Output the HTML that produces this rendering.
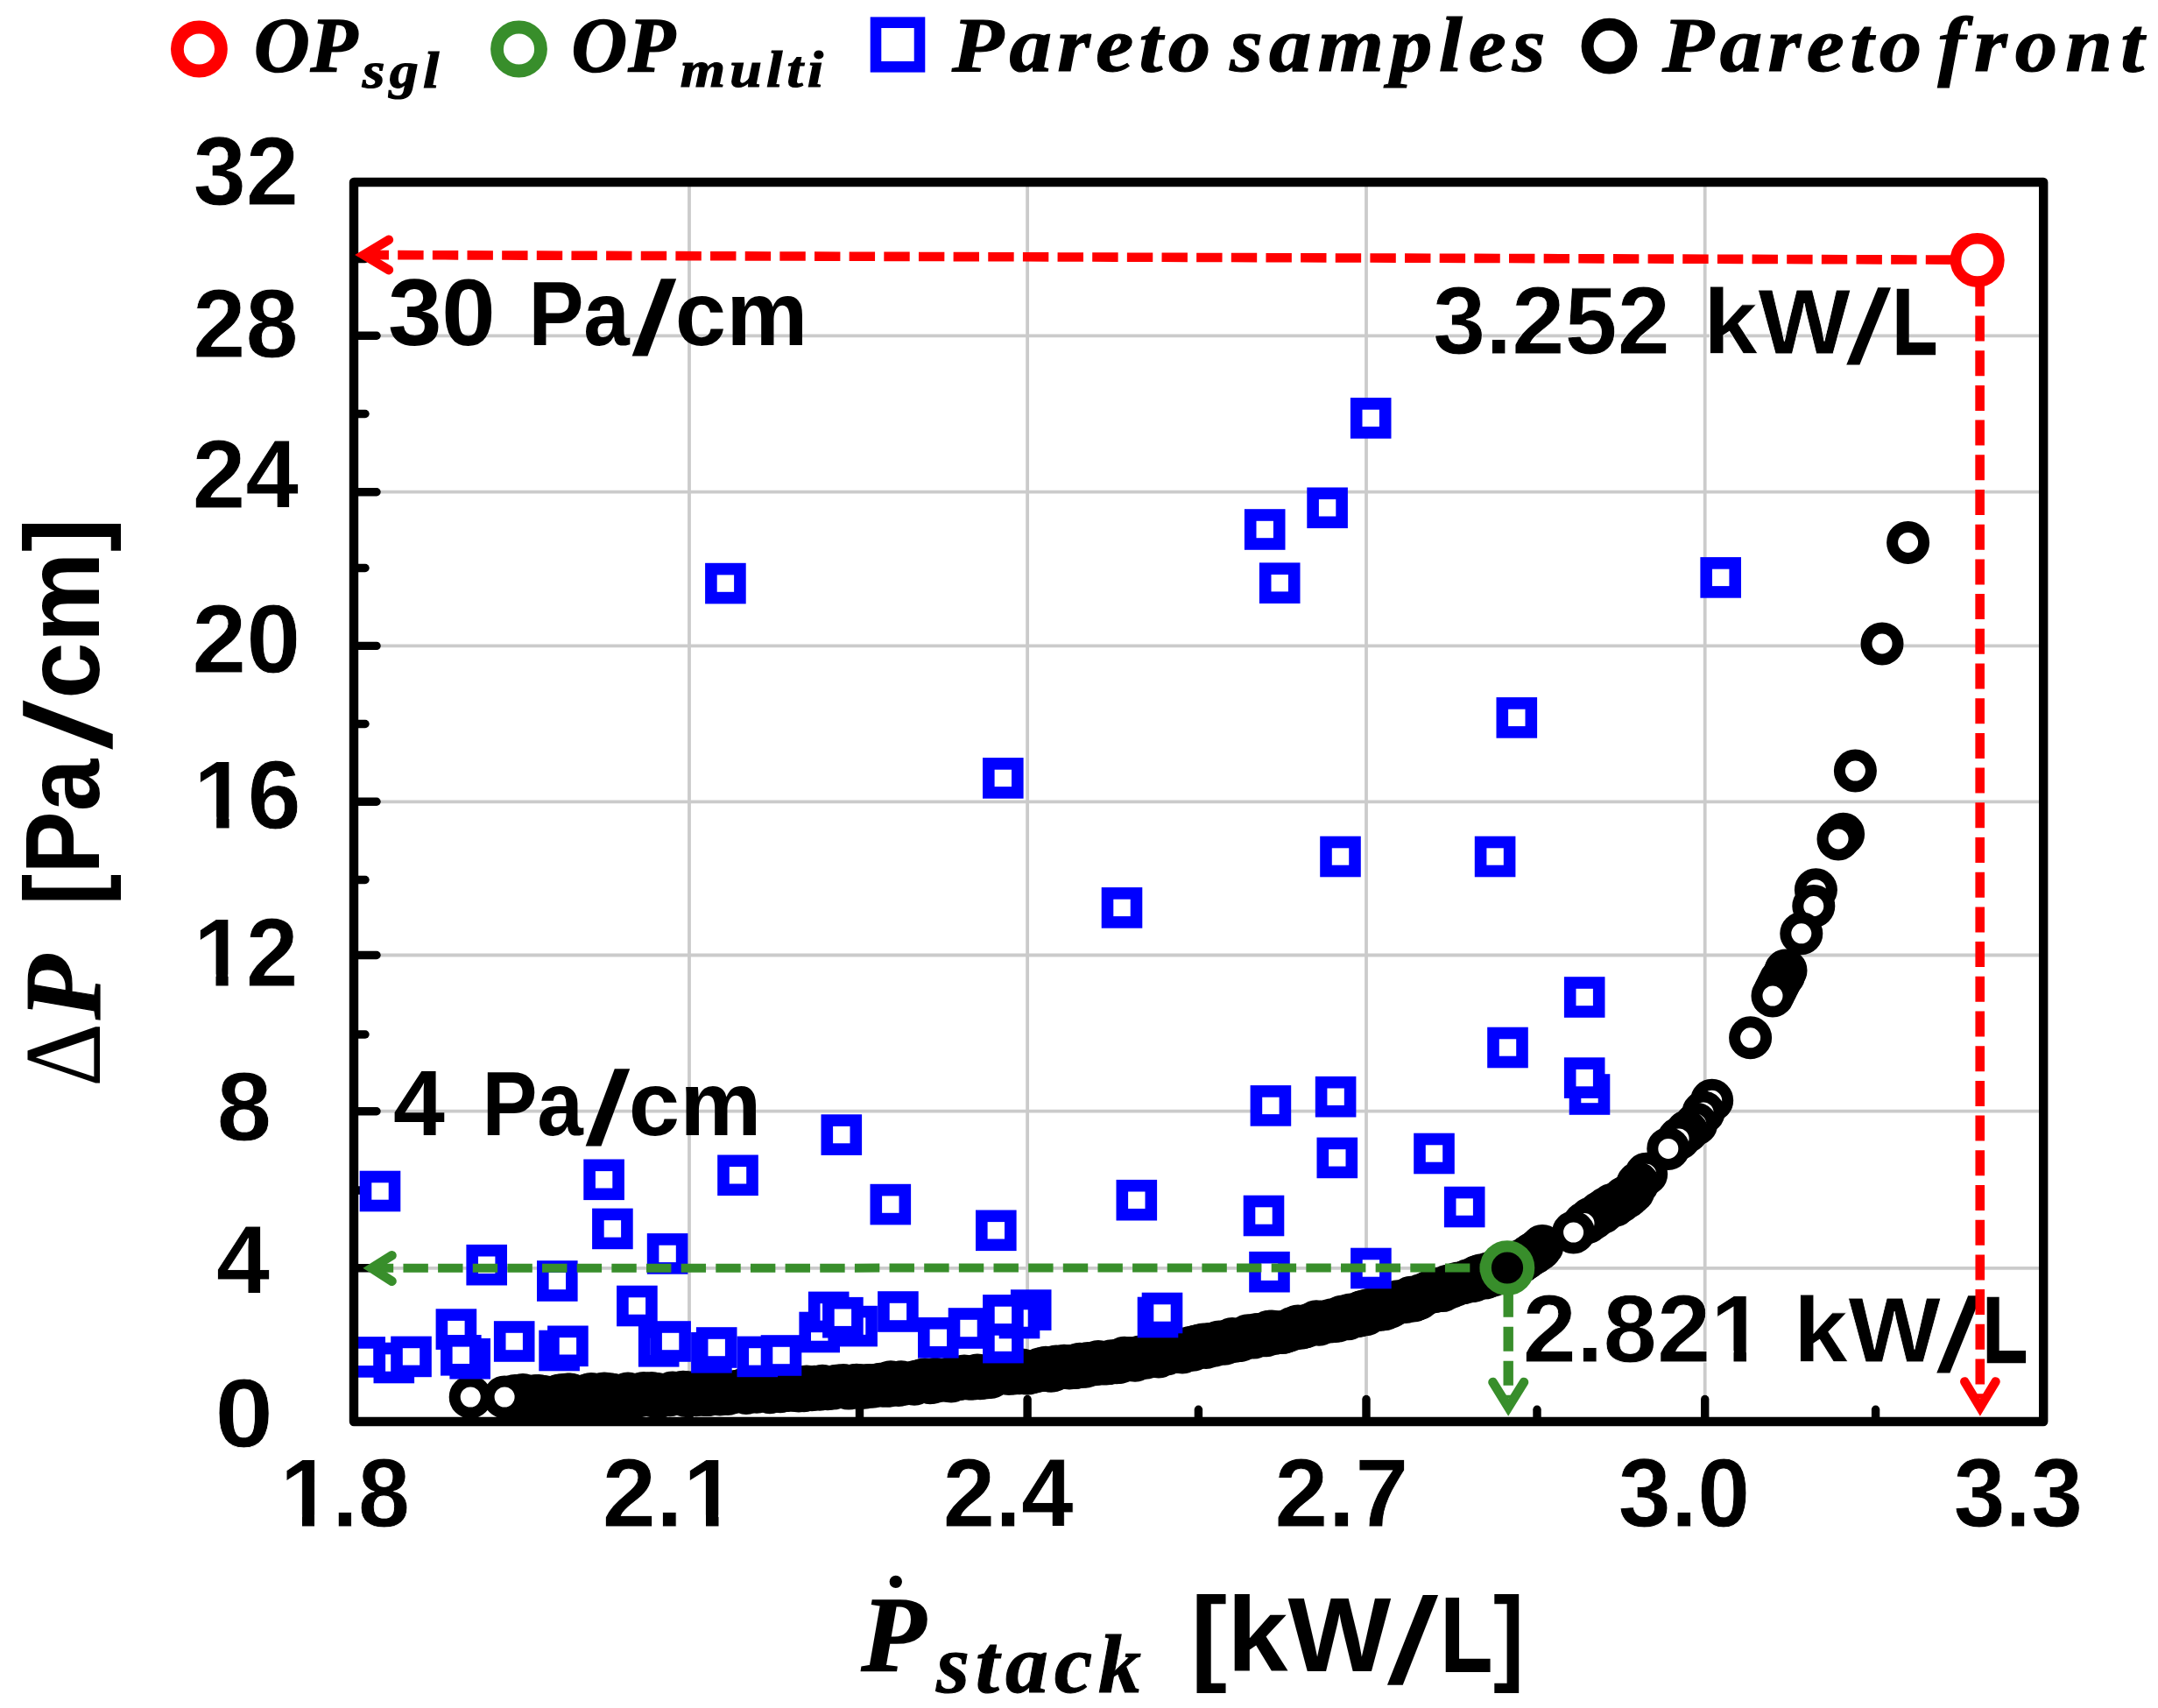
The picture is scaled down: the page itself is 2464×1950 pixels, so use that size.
<!DOCTYPE html>
<html lang="en"><head><meta charset="utf-8"><title>Pareto front</title>
<style>html,body{margin:0;padding:0;background:#fff}svg{display:block}</style></head>
<body>
<svg width="2464" height="1950" viewBox="0 0 2464 1950">
<rect width="100%" height="100%" fill="#fff"/>
<g stroke="#cbcbcb" stroke-width="3.8" fill="none">
<line x1="787.0" y1="208.0" x2="787.0" y2="1623.0"/>
<line x1="1173.1" y1="208.0" x2="1173.1" y2="1623.0"/>
<line x1="1560.0" y1="208.0" x2="1560.0" y2="1623.0"/>
<line x1="1946.7" y1="208.0" x2="1946.7" y2="1623.0"/>
<line x1="404.0" y1="383.3" x2="2333.2" y2="383.3"/>
<line x1="404.0" y1="561.7" x2="2333.2" y2="561.7"/>
<line x1="404.0" y1="737.4" x2="2333.2" y2="737.4"/>
<line x1="404.0" y1="915.3" x2="2333.2" y2="915.3"/>
<line x1="404.0" y1="1090.5" x2="2333.2" y2="1090.5"/>
<line x1="404.0" y1="1268.7" x2="2333.2" y2="1268.7"/>
<line x1="404.0" y1="1447.8" x2="2333.2" y2="1447.8"/>
</g>
<g stroke="#000" stroke-width="9.4" stroke-linecap="round" fill="none">
<line x1="404.0" y1="383.3" x2="430" y2="383.3"/>
<line x1="404.0" y1="561.7" x2="430" y2="561.7"/>
<line x1="404.0" y1="737.4" x2="430" y2="737.4"/>
<line x1="404.0" y1="915.3" x2="430" y2="915.3"/>
<line x1="404.0" y1="1090.5" x2="430" y2="1090.5"/>
<line x1="404.0" y1="1268.7" x2="430" y2="1268.7"/>
<line x1="404.0" y1="1447.8" x2="430" y2="1447.8"/>
<line x1="404.0" y1="295.5" x2="417" y2="295.5"/>
<line x1="404.0" y1="472.5" x2="417" y2="472.5"/>
<line x1="404.0" y1="648.5" x2="417" y2="648.5"/>
<line x1="404.0" y1="826.5" x2="417" y2="826.5"/>
<line x1="404.0" y1="1004.5" x2="417" y2="1004.5"/>
<line x1="404.0" y1="1181.0" x2="417" y2="1181.0"/>
<line x1="404.0" y1="1359.0" x2="417" y2="1359.0"/>
<line x1="404.0" y1="1538.5" x2="417" y2="1538.5"/>
<line x1="787.0" y1="1623.0" x2="787.0" y2="1597.5"/>
<line x1="1173.1" y1="1623.0" x2="1173.1" y2="1597.5"/>
<line x1="1560.0" y1="1623.0" x2="1560.0" y2="1597.5"/>
<line x1="1946.7" y1="1623.0" x2="1946.7" y2="1597.5"/>
<line x1="593.7" y1="1623.0" x2="593.7" y2="1609.3"/>
<line x1="981.5" y1="1623.0" x2="981.5" y2="1609.3"/>
<line x1="1368.4" y1="1623.0" x2="1368.4" y2="1609.3"/>
<line x1="1755.0" y1="1623.0" x2="1755.0" y2="1609.3"/>
<line x1="2141.6" y1="1623.0" x2="2141.6" y2="1609.3"/>
</g>
<defs><clipPath id="plot"><rect x="404" y="208" width="1929.2" height="1415"/></clipPath></defs>
<g fill="#fff" stroke="#000" stroke-width="13" clip-path="url(#plot)">
<circle cx="2178.6" cy="619.4" r="18"/>
<circle cx="2149.0" cy="734.9" r="18"/>
<circle cx="2118.4" cy="880.0" r="18"/>
<circle cx="2104.6" cy="952.3" r="18"/>
<circle cx="2099.0" cy="957.9" r="18"/>
<circle cx="2073.4" cy="1015.7" r="18"/>
<circle cx="2070.8" cy="1034.6" r="18"/>
<circle cx="2056.8" cy="1065.8" r="18"/>
<circle cx="2039.0" cy="1108.0" r="18"/>
<circle cx="2036.7" cy="1113.6" r="18"/>
<circle cx="2033.0" cy="1119.0" r="18"/>
<circle cx="2030.0" cy="1125.0" r="18"/>
<circle cx="2027.0" cy="1131.0" r="18"/>
<circle cx="2024.0" cy="1137.0" r="18"/>
<circle cx="1998.6" cy="1184.8" r="18"/>
<circle cx="1954.7" cy="1256.3" r="18"/>
<circle cx="1945.0" cy="1270.0" r="18"/>
<circle cx="1936.7" cy="1283.3" r="18"/>
<circle cx="1926.0" cy="1292.0" r="18"/>
<circle cx="1917.0" cy="1300.0" r="18"/>
<circle cx="1904.8" cy="1311.4" r="18"/>
<circle cx="1879.7" cy="1340.3" r="18"/>
<circle cx="1870.0" cy="1351.0" r="18"/>
<circle cx="1865.0" cy="1360.1" r="18"/>
<circle cx="1861.5" cy="1363.3" r="18"/>
<circle cx="1858.0" cy="1366.4" r="18"/>
<circle cx="1854.5" cy="1367.4" r="18"/>
<circle cx="1851.0" cy="1371.3" r="18"/>
<circle cx="1847.5" cy="1372.9" r="18"/>
<circle cx="1844.0" cy="1376.2" r="18"/>
<circle cx="1840.5" cy="1375.6" r="18"/>
<circle cx="1837.0" cy="1378.8" r="18"/>
<circle cx="1833.5" cy="1379.8" r="18"/>
<circle cx="1830.0" cy="1384.2" r="18"/>
<circle cx="1826.5" cy="1384.5" r="18"/>
<circle cx="1823.0" cy="1387.5" r="18"/>
<circle cx="1819.5" cy="1390.9" r="18"/>
<circle cx="1816.0" cy="1391.2" r="18"/>
<circle cx="1812.5" cy="1395.7" r="18"/>
<circle cx="1809.0" cy="1396.6" r="18"/>
<circle cx="1796.6" cy="1407.0" r="18"/>
<circle cx="1761.0" cy="1422.5" r="18"/>
<circle cx="1758.0" cy="1426.3" r="18"/>
<circle cx="1755.0" cy="1427.8" r="18"/>
<circle cx="1752.0" cy="1430.5" r="18"/>
<circle cx="1749.0" cy="1431.7" r="18"/>
<circle cx="1746.0" cy="1434.0" r="18"/>
<circle cx="1743.0" cy="1436.3" r="18"/>
<circle cx="1740.0" cy="1438.0" r="18"/>
<circle cx="1737.0" cy="1440.5" r="18"/>
<circle cx="1734.0" cy="1440.3" r="18"/>
<circle cx="1731.0" cy="1441.0" r="18"/>
<circle cx="1728.0" cy="1441.9" r="18"/>
<circle cx="1725.0" cy="1446.1" r="18"/>
<circle cx="1722.0" cy="1446.1" r="18"/>
<circle cx="1719.0" cy="1446.0" r="18"/>
<circle cx="1716.0" cy="1451.6" r="18"/>
<circle cx="1713.0" cy="1450.6" r="18"/>
<circle cx="1710.0" cy="1451.8" r="18"/>
<circle cx="1707.0" cy="1451.3" r="18"/>
<circle cx="1704.0" cy="1456.2" r="18"/>
<circle cx="1701.0" cy="1453.5" r="18"/>
<circle cx="1698.0" cy="1458.0" r="18"/>
<circle cx="1695.0" cy="1459.1" r="18"/>
<circle cx="1692.0" cy="1455.7" r="18"/>
<circle cx="1689.0" cy="1456.7" r="18"/>
<circle cx="1686.0" cy="1457.8" r="18"/>
<circle cx="1683.0" cy="1462.2" r="18"/>
<circle cx="1680.0" cy="1462.7" r="18"/>
<circle cx="1677.0" cy="1461.6" r="18"/>
<circle cx="1674.0" cy="1463.2" r="18"/>
<circle cx="1671.0" cy="1464.6" r="18"/>
<circle cx="1668.0" cy="1465.0" r="18"/>
<circle cx="1665.0" cy="1464.9" r="18"/>
<circle cx="1662.0" cy="1467.1" r="18"/>
<circle cx="1659.0" cy="1466.7" r="18"/>
<circle cx="1656.0" cy="1469.7" r="18"/>
<circle cx="1653.0" cy="1468.3" r="18"/>
<circle cx="1650.0" cy="1470.8" r="18"/>
<circle cx="1647.0" cy="1473.6" r="18"/>
<circle cx="1644.0" cy="1471.2" r="18"/>
<circle cx="1641.0" cy="1471.9" r="18"/>
<circle cx="1638.0" cy="1474.8" r="18"/>
<circle cx="1635.0" cy="1473.4" r="18"/>
<circle cx="1632.0" cy="1474.9" r="18"/>
<circle cx="1629.0" cy="1476.4" r="18"/>
<circle cx="1626.0" cy="1478.2" r="18"/>
<circle cx="1623.0" cy="1478.4" r="18"/>
<circle cx="1620.0" cy="1482.7" r="18"/>
<circle cx="1617.0" cy="1483.6" r="18"/>
<circle cx="1614.0" cy="1485.0" r="18"/>
<circle cx="1611.0" cy="1481.3" r="18"/>
<circle cx="1608.0" cy="1484.2" r="18"/>
<circle cx="1605.0" cy="1486.5" r="18"/>
<circle cx="1602.0" cy="1485.4" r="18"/>
<circle cx="1599.0" cy="1486.3" r="18"/>
<circle cx="1596.0" cy="1485.8" r="18"/>
<circle cx="1593.0" cy="1488.9" r="18"/>
<circle cx="1590.0" cy="1487.8" r="18"/>
<circle cx="1587.0" cy="1492.2" r="18"/>
<circle cx="1584.0" cy="1490.3" r="18"/>
<circle cx="1581.0" cy="1494.7" r="18"/>
<circle cx="1578.0" cy="1491.9" r="18"/>
<circle cx="1575.0" cy="1495.5" r="18"/>
<circle cx="1572.0" cy="1494.8" r="18"/>
<circle cx="1569.0" cy="1496.3" r="18"/>
<circle cx="1566.0" cy="1495.1" r="18"/>
<circle cx="1563.0" cy="1495.6" r="18"/>
<circle cx="1560.0" cy="1500.7" r="18"/>
<circle cx="1557.0" cy="1497.0" r="18"/>
<circle cx="1554.0" cy="1497.9" r="18"/>
<circle cx="1551.0" cy="1502.6" r="18"/>
<circle cx="1548.0" cy="1502.8" r="18"/>
<circle cx="1545.0" cy="1503.0" r="18"/>
<circle cx="1542.0" cy="1500.9" r="18"/>
<circle cx="1539.0" cy="1505.8" r="18"/>
<circle cx="1536.0" cy="1505.3" r="18"/>
<circle cx="1533.0" cy="1502.9" r="18"/>
<circle cx="1530.0" cy="1504.8" r="18"/>
<circle cx="1527.0" cy="1508.1" r="18"/>
<circle cx="1524.0" cy="1508.4" r="18"/>
<circle cx="1521.0" cy="1506.8" r="18"/>
<circle cx="1518.0" cy="1509.1" r="18"/>
<circle cx="1515.0" cy="1508.9" r="18"/>
<circle cx="1512.0" cy="1508.7" r="18"/>
<circle cx="1509.0" cy="1510.1" r="18"/>
<circle cx="1506.0" cy="1512.3" r="18"/>
<circle cx="1503.0" cy="1508.8" r="18"/>
<circle cx="1500.0" cy="1511.4" r="18"/>
<circle cx="1497.0" cy="1511.8" r="18"/>
<circle cx="1494.0" cy="1512.8" r="18"/>
<circle cx="1491.0" cy="1514.8" r="18"/>
<circle cx="1488.0" cy="1515.5" r="18"/>
<circle cx="1485.0" cy="1516.2" r="18"/>
<circle cx="1482.0" cy="1513.9" r="18"/>
<circle cx="1479.0" cy="1516.8" r="18"/>
<circle cx="1476.0" cy="1516.2" r="18"/>
<circle cx="1473.0" cy="1518.7" r="18"/>
<circle cx="1470.0" cy="1519.6" r="18"/>
<circle cx="1467.0" cy="1520.7" r="18"/>
<circle cx="1464.0" cy="1521.6" r="18"/>
<circle cx="1461.0" cy="1520.8" r="18"/>
<circle cx="1458.0" cy="1521.1" r="18"/>
<circle cx="1455.0" cy="1522.5" r="18"/>
<circle cx="1452.0" cy="1520.0" r="18"/>
<circle cx="1449.0" cy="1520.3" r="18"/>
<circle cx="1446.0" cy="1524.8" r="18"/>
<circle cx="1443.0" cy="1524.7" r="18"/>
<circle cx="1440.0" cy="1524.2" r="18"/>
<circle cx="1437.0" cy="1523.5" r="18"/>
<circle cx="1434.0" cy="1523.7" r="18"/>
<circle cx="1431.0" cy="1527.1" r="18"/>
<circle cx="1428.0" cy="1526.5" r="18"/>
<circle cx="1425.0" cy="1524.8" r="18"/>
<circle cx="1422.0" cy="1526.9" r="18"/>
<circle cx="1419.0" cy="1529.0" r="18"/>
<circle cx="1416.0" cy="1530.4" r="18"/>
<circle cx="1413.0" cy="1530.7" r="18"/>
<circle cx="1410.0" cy="1531.1" r="18"/>
<circle cx="1407.0" cy="1528.5" r="18"/>
<circle cx="1404.0" cy="1532.1" r="18"/>
<circle cx="1401.0" cy="1531.1" r="18"/>
<circle cx="1398.0" cy="1534.2" r="18"/>
<circle cx="1395.0" cy="1532.5" r="18"/>
<circle cx="1392.0" cy="1531.9" r="18"/>
<circle cx="1389.0" cy="1534.7" r="18"/>
<circle cx="1386.0" cy="1536.3" r="18"/>
<circle cx="1383.0" cy="1534.3" r="18"/>
<circle cx="1380.0" cy="1534.7" r="18"/>
<circle cx="1377.0" cy="1538.5" r="18"/>
<circle cx="1374.0" cy="1535.1" r="18"/>
<circle cx="1371.0" cy="1535.9" r="18"/>
<circle cx="1368.0" cy="1536.6" r="18"/>
<circle cx="1365.0" cy="1537.3" r="18"/>
<circle cx="1362.0" cy="1541.2" r="18"/>
<circle cx="1359.0" cy="1538.5" r="18"/>
<circle cx="1356.0" cy="1540.3" r="18"/>
<circle cx="1353.0" cy="1542.4" r="18"/>
<circle cx="1350.0" cy="1543.9" r="18"/>
<circle cx="1347.0" cy="1541.1" r="18"/>
<circle cx="1344.0" cy="1543.5" r="18"/>
<circle cx="1341.0" cy="1543.4" r="18"/>
<circle cx="1338.0" cy="1543.5" r="18"/>
<circle cx="1335.0" cy="1543.9" r="18"/>
<circle cx="1332.0" cy="1546.0" r="18"/>
<circle cx="1329.0" cy="1545.6" r="18"/>
<circle cx="1326.0" cy="1546.1" r="18"/>
<circle cx="1323.0" cy="1548.9" r="18"/>
<circle cx="1320.0" cy="1548.5" r="18"/>
<circle cx="1317.0" cy="1546.3" r="18"/>
<circle cx="1314.0" cy="1547.9" r="18"/>
<circle cx="1311.0" cy="1547.0" r="18"/>
<circle cx="1308.0" cy="1550.2" r="18"/>
<circle cx="1305.0" cy="1549.6" r="18"/>
<circle cx="1302.0" cy="1549.0" r="18"/>
<circle cx="1299.0" cy="1550.0" r="18"/>
<circle cx="1296.0" cy="1553.3" r="18"/>
<circle cx="1293.0" cy="1551.8" r="18"/>
<circle cx="1290.0" cy="1550.4" r="18"/>
<circle cx="1287.0" cy="1553.0" r="18"/>
<circle cx="1284.0" cy="1550.3" r="18"/>
<circle cx="1281.0" cy="1551.4" r="18"/>
<circle cx="1278.0" cy="1555.4" r="18"/>
<circle cx="1275.0" cy="1555.7" r="18"/>
<circle cx="1272.0" cy="1555.4" r="18"/>
<circle cx="1269.0" cy="1553.8" r="18"/>
<circle cx="1266.0" cy="1556.6" r="18"/>
<circle cx="1263.0" cy="1557.0" r="18"/>
<circle cx="1260.0" cy="1556.5" r="18"/>
<circle cx="1257.0" cy="1557.0" r="18"/>
<circle cx="1254.0" cy="1554.5" r="18"/>
<circle cx="1251.0" cy="1557.5" r="18"/>
<circle cx="1248.0" cy="1558.0" r="18"/>
<circle cx="1245.0" cy="1558.0" r="18"/>
<circle cx="1242.0" cy="1556.5" r="18"/>
<circle cx="1239.0" cy="1560.3" r="18"/>
<circle cx="1236.0" cy="1560.1" r="18"/>
<circle cx="1233.0" cy="1557.3" r="18"/>
<circle cx="1230.0" cy="1560.9" r="18"/>
<circle cx="1227.0" cy="1561.6" r="18"/>
<circle cx="1224.0" cy="1559.2" r="18"/>
<circle cx="1221.0" cy="1562.0" r="18"/>
<circle cx="1218.0" cy="1561.5" r="18"/>
<circle cx="1215.0" cy="1559.3" r="18"/>
<circle cx="1212.0" cy="1560.7" r="18"/>
<circle cx="1209.0" cy="1561.1" r="18"/>
<circle cx="1206.0" cy="1560.0" r="18"/>
<circle cx="1203.0" cy="1564.4" r="18"/>
<circle cx="1200.0" cy="1565.2" r="18"/>
<circle cx="1197.0" cy="1564.8" r="18"/>
<circle cx="1194.0" cy="1561.3" r="18"/>
<circle cx="1191.0" cy="1564.3" r="18"/>
<circle cx="1188.0" cy="1562.7" r="18"/>
<circle cx="1185.0" cy="1565.1" r="18"/>
<circle cx="1182.0" cy="1565.7" r="18"/>
<circle cx="1179.0" cy="1566.8" r="18"/>
<circle cx="1176.0" cy="1565.8" r="18"/>
<circle cx="1173.0" cy="1568.1" r="18"/>
<circle cx="1170.0" cy="1565.3" r="18"/>
<circle cx="1167.0" cy="1564.1" r="18"/>
<circle cx="1164.0" cy="1567.8" r="18"/>
<circle cx="1161.0" cy="1565.5" r="18"/>
<circle cx="1158.0" cy="1568.0" r="18"/>
<circle cx="1155.0" cy="1565.5" r="18"/>
<circle cx="1152.0" cy="1568.5" r="18"/>
<circle cx="1149.0" cy="1566.9" r="18"/>
<circle cx="1146.0" cy="1567.5" r="18"/>
<circle cx="1143.0" cy="1567.9" r="18"/>
<circle cx="1140.0" cy="1567.0" r="18"/>
<circle cx="1137.0" cy="1567.4" r="18"/>
<circle cx="1134.0" cy="1567.8" r="18"/>
<circle cx="1131.0" cy="1572.4" r="18"/>
<circle cx="1128.0" cy="1570.8" r="18"/>
<circle cx="1125.0" cy="1572.9" r="18"/>
<circle cx="1122.0" cy="1572.8" r="18"/>
<circle cx="1119.0" cy="1573.7" r="18"/>
<circle cx="1116.0" cy="1570.0" r="18"/>
<circle cx="1113.0" cy="1573.3" r="18"/>
<circle cx="1110.0" cy="1574.1" r="18"/>
<circle cx="1107.0" cy="1574.1" r="18"/>
<circle cx="1104.0" cy="1572.6" r="18"/>
<circle cx="1101.0" cy="1571.1" r="18"/>
<circle cx="1098.0" cy="1572.0" r="18"/>
<circle cx="1095.0" cy="1574.6" r="18"/>
<circle cx="1092.0" cy="1574.8" r="18"/>
<circle cx="1089.0" cy="1574.3" r="18"/>
<circle cx="1086.0" cy="1577.0" r="18"/>
<circle cx="1083.0" cy="1574.0" r="18"/>
<circle cx="1080.0" cy="1576.0" r="18"/>
<circle cx="1077.0" cy="1575.9" r="18"/>
<circle cx="1074.0" cy="1575.6" r="18"/>
<circle cx="1071.0" cy="1576.4" r="18"/>
<circle cx="1068.0" cy="1574.2" r="18"/>
<circle cx="1065.0" cy="1578.1" r="18"/>
<circle cx="1062.0" cy="1578.7" r="18"/>
<circle cx="1059.0" cy="1575.4" r="18"/>
<circle cx="1056.0" cy="1574.8" r="18"/>
<circle cx="1053.0" cy="1575.8" r="18"/>
<circle cx="1050.0" cy="1577.0" r="18"/>
<circle cx="1047.0" cy="1576.9" r="18"/>
<circle cx="1044.0" cy="1580.3" r="18"/>
<circle cx="1041.0" cy="1578.8" r="18"/>
<circle cx="1038.0" cy="1579.5" r="18"/>
<circle cx="1035.0" cy="1579.5" r="18"/>
<circle cx="1032.0" cy="1580.3" r="18"/>
<circle cx="1029.0" cy="1577.8" r="18"/>
<circle cx="1026.0" cy="1581.5" r="18"/>
<circle cx="1023.0" cy="1579.5" r="18"/>
<circle cx="1020.0" cy="1579.3" r="18"/>
<circle cx="1017.0" cy="1577.7" r="18"/>
<circle cx="1014.0" cy="1582.2" r="18"/>
<circle cx="1011.0" cy="1579.8" r="18"/>
<circle cx="1008.0" cy="1582.3" r="18"/>
<circle cx="1005.0" cy="1580.3" r="18"/>
<circle cx="1002.0" cy="1581.3" r="18"/>
<circle cx="999.0" cy="1582.3" r="18"/>
<circle cx="996.0" cy="1583.2" r="18"/>
<circle cx="993.0" cy="1581.5" r="18"/>
<circle cx="990.0" cy="1581.7" r="18"/>
<circle cx="987.0" cy="1584.2" r="18"/>
<circle cx="984.0" cy="1581.7" r="18"/>
<circle cx="981.0" cy="1584.4" r="18"/>
<circle cx="978.0" cy="1581.2" r="18"/>
<circle cx="975.0" cy="1581.7" r="18"/>
<circle cx="972.0" cy="1583.1" r="18"/>
<circle cx="969.0" cy="1585.1" r="18"/>
<circle cx="966.0" cy="1582.3" r="18"/>
<circle cx="963.0" cy="1581.6" r="18"/>
<circle cx="960.0" cy="1582.7" r="18"/>
<circle cx="957.0" cy="1582.1" r="18"/>
<circle cx="954.0" cy="1582.4" r="18"/>
<circle cx="951.0" cy="1585.1" r="18"/>
<circle cx="948.0" cy="1584.2" r="18"/>
<circle cx="945.0" cy="1585.7" r="18"/>
<circle cx="942.0" cy="1585.1" r="18"/>
<circle cx="939.0" cy="1582.2" r="18"/>
<circle cx="936.0" cy="1586.3" r="18"/>
<circle cx="933.0" cy="1584.5" r="18"/>
<circle cx="930.0" cy="1583.2" r="18"/>
<circle cx="927.0" cy="1586.8" r="18"/>
<circle cx="924.0" cy="1586.6" r="18"/>
<circle cx="921.0" cy="1583.0" r="18"/>
<circle cx="918.0" cy="1587.8" r="18"/>
<circle cx="915.0" cy="1584.1" r="18"/>
<circle cx="912.0" cy="1588.0" r="18"/>
<circle cx="909.0" cy="1587.4" r="18"/>
<circle cx="906.0" cy="1586.3" r="18"/>
<circle cx="903.0" cy="1585.6" r="18"/>
<circle cx="900.0" cy="1587.4" r="18"/>
<circle cx="897.0" cy="1587.1" r="18"/>
<circle cx="894.0" cy="1586.0" r="18"/>
<circle cx="891.0" cy="1588.8" r="18"/>
<circle cx="888.0" cy="1587.2" r="18"/>
<circle cx="885.0" cy="1586.8" r="18"/>
<circle cx="882.0" cy="1588.1" r="18"/>
<circle cx="879.0" cy="1589.8" r="18"/>
<circle cx="876.0" cy="1585.7" r="18"/>
<circle cx="873.0" cy="1585.3" r="18"/>
<circle cx="870.0" cy="1587.2" r="18"/>
<circle cx="867.0" cy="1585.6" r="18"/>
<circle cx="864.0" cy="1589.3" r="18"/>
<circle cx="861.0" cy="1587.3" r="18"/>
<circle cx="858.0" cy="1588.6" r="18"/>
<circle cx="855.0" cy="1588.3" r="18"/>
<circle cx="852.0" cy="1590.5" r="18"/>
<circle cx="849.0" cy="1586.4" r="18"/>
<circle cx="846.0" cy="1587.5" r="18"/>
<circle cx="843.0" cy="1588.5" r="18"/>
<circle cx="840.0" cy="1588.5" r="18"/>
<circle cx="837.0" cy="1589.6" r="18"/>
<circle cx="834.0" cy="1590.0" r="18"/>
<circle cx="831.0" cy="1591.4" r="18"/>
<circle cx="828.0" cy="1588.0" r="18"/>
<circle cx="825.0" cy="1589.9" r="18"/>
<circle cx="822.0" cy="1591.9" r="18"/>
<circle cx="819.0" cy="1588.4" r="18"/>
<circle cx="816.0" cy="1588.3" r="18"/>
<circle cx="813.0" cy="1590.5" r="18"/>
<circle cx="810.0" cy="1592.3" r="18"/>
<circle cx="807.0" cy="1592.6" r="18"/>
<circle cx="804.0" cy="1592.2" r="18"/>
<circle cx="801.0" cy="1588.7" r="18"/>
<circle cx="798.0" cy="1591.5" r="18"/>
<circle cx="795.0" cy="1592.7" r="18"/>
<circle cx="792.0" cy="1589.9" r="18"/>
<circle cx="789.0" cy="1591.9" r="18"/>
<circle cx="786.0" cy="1589.7" r="18"/>
<circle cx="783.0" cy="1593.5" r="18"/>
<circle cx="780.0" cy="1589.3" r="18"/>
<circle cx="777.0" cy="1590.9" r="18"/>
<circle cx="774.0" cy="1590.2" r="18"/>
<circle cx="771.0" cy="1591.3" r="18"/>
<circle cx="768.0" cy="1589.9" r="18"/>
<circle cx="765.0" cy="1592.7" r="18"/>
<circle cx="762.0" cy="1592.5" r="18"/>
<circle cx="759.0" cy="1592.5" r="18"/>
<circle cx="756.0" cy="1592.5" r="18"/>
<circle cx="753.0" cy="1594.5" r="18"/>
<circle cx="750.0" cy="1591.6" r="18"/>
<circle cx="747.0" cy="1593.9" r="18"/>
<circle cx="744.0" cy="1590.6" r="18"/>
<circle cx="741.0" cy="1591.5" r="18"/>
<circle cx="738.0" cy="1591.9" r="18"/>
<circle cx="735.0" cy="1590.4" r="18"/>
<circle cx="732.0" cy="1593.1" r="18"/>
<circle cx="729.0" cy="1592.0" r="18"/>
<circle cx="726.0" cy="1594.6" r="18"/>
<circle cx="723.0" cy="1592.9" r="18"/>
<circle cx="720.0" cy="1593.1" r="18"/>
<circle cx="717.0" cy="1590.9" r="18"/>
<circle cx="714.0" cy="1594.2" r="18"/>
<circle cx="711.0" cy="1593.8" r="18"/>
<circle cx="708.0" cy="1594.9" r="18"/>
<circle cx="705.0" cy="1593.3" r="18"/>
<circle cx="702.0" cy="1595.2" r="18"/>
<circle cx="699.0" cy="1592.2" r="18"/>
<circle cx="696.0" cy="1591.7" r="18"/>
<circle cx="693.0" cy="1595.1" r="18"/>
<circle cx="690.0" cy="1591.0" r="18"/>
<circle cx="687.0" cy="1592.9" r="18"/>
<circle cx="684.0" cy="1592.1" r="18"/>
<circle cx="681.0" cy="1594.7" r="18"/>
<circle cx="678.0" cy="1592.2" r="18"/>
<circle cx="675.0" cy="1591.4" r="18"/>
<circle cx="672.0" cy="1592.6" r="18"/>
<circle cx="669.0" cy="1593.9" r="18"/>
<circle cx="666.0" cy="1594.1" r="18"/>
<circle cx="663.0" cy="1594.7" r="18"/>
<circle cx="660.0" cy="1596.2" r="18"/>
<circle cx="657.0" cy="1594.0" r="18"/>
<circle cx="654.0" cy="1594.3" r="18"/>
<circle cx="651.0" cy="1591.9" r="18"/>
<circle cx="648.0" cy="1592.0" r="18"/>
<circle cx="645.0" cy="1594.9" r="18"/>
<circle cx="642.0" cy="1592.7" r="18"/>
<circle cx="639.0" cy="1593.0" r="18"/>
<circle cx="636.0" cy="1597.0" r="18"/>
<circle cx="633.0" cy="1595.2" r="18"/>
<circle cx="630.0" cy="1596.1" r="18"/>
<circle cx="627.0" cy="1597.1" r="18"/>
<circle cx="624.0" cy="1594.9" r="18"/>
<circle cx="621.0" cy="1594.7" r="18"/>
<circle cx="618.0" cy="1594.5" r="18"/>
<circle cx="615.0" cy="1593.6" r="18"/>
<circle cx="612.0" cy="1593.7" r="18"/>
<circle cx="609.0" cy="1593.9" r="18"/>
<circle cx="606.0" cy="1594.7" r="18"/>
<circle cx="603.0" cy="1596.4" r="18"/>
<circle cx="600.0" cy="1596.5" r="18"/>
<circle cx="597.0" cy="1592.5" r="18"/>
<circle cx="594.0" cy="1596.8" r="18"/>
<circle cx="591.0" cy="1594.0" r="18"/>
<circle cx="588.0" cy="1593.6" r="18"/>
<circle cx="585.0" cy="1596.4" r="18"/>
<circle cx="582.0" cy="1597.0" r="18"/>
<circle cx="579.0" cy="1595.6" r="18"/>
<circle cx="576.1" cy="1595.0" r="18"/>
<circle cx="537.2" cy="1595.0" r="18"/>
</g>
<g fill="#fff" stroke="#0000ff" stroke-width="13.6" clip-path="url(#plot)">
<rect x="811.9" y="649.6" width="33.0" height="33.0"/>
<rect x="1128.8" y="871.9" width="33.0" height="33.0"/>
<rect x="1548.7" y="460.9" width="33.0" height="33.0"/>
<rect x="1499.1" y="563.3" width="33.0" height="33.0"/>
<rect x="1427.7" y="588.0" width="33.0" height="33.0"/>
<rect x="1444.7" y="649.2" width="33.0" height="33.0"/>
<rect x="1948.2" y="642.9" width="33.0" height="33.0"/>
<rect x="1715.3" y="802.9" width="33.0" height="33.0"/>
<rect x="1514.0" y="961.5" width="33.0" height="33.0"/>
<rect x="1690.6" y="961.5" width="33.0" height="33.0"/>
<rect x="1264.5" y="1019.9" width="33.0" height="33.0"/>
<rect x="1792.7" y="1122.0" width="33.0" height="33.0"/>
<rect x="1705.0" y="1179.5" width="33.0" height="33.0"/>
<rect x="1798.5" y="1233.0" width="33.0" height="33.0"/>
<rect x="1792.7" y="1214.1" width="33.0" height="33.0"/>
<rect x="1434.4" y="1245.9" width="33.0" height="33.0"/>
<rect x="1508.6" y="1235.7" width="33.0" height="33.0"/>
<rect x="1510.3" y="1305.4" width="33.0" height="33.0"/>
<rect x="1621.0" y="1300.5" width="33.0" height="33.0"/>
<rect x="1655.7" y="1361.5" width="33.0" height="33.0"/>
<rect x="1426.5" y="1371.5" width="33.0" height="33.0"/>
<rect x="1433.0" y="1435.7" width="33.0" height="33.0"/>
<rect x="1548.9" y="1431.5" width="33.0" height="33.0"/>
<rect x="944.3" y="1279.1" width="33.0" height="33.0"/>
<rect x="826.0" y="1325.3" width="33.0" height="33.0"/>
<rect x="673.1" y="1330.3" width="33.0" height="33.0"/>
<rect x="417.5" y="1343.5" width="33.0" height="33.0"/>
<rect x="1000.3" y="1358.6" width="33.0" height="33.0"/>
<rect x="1281.3" y="1353.7" width="33.0" height="33.0"/>
<rect x="1120.8" y="1388.3" width="33.0" height="33.0"/>
<rect x="682.9" y="1386.4" width="33.0" height="33.0"/>
<rect x="745.6" y="1414.9" width="33.0" height="33.0"/>
<rect x="539.2" y="1427.7" width="33.0" height="33.0"/>
<rect x="619.8" y="1446.0" width="33.0" height="33.0"/>
<rect x="710.9" y="1474.5" width="33.0" height="33.0"/>
<rect x="504.4" y="1501.1" width="33.0" height="33.0"/>
<rect x="520.2" y="1534.7" width="33.0" height="33.0"/>
<rect x="509.8" y="1530.8" width="33.0" height="33.0"/>
<rect x="570.7" y="1515.0" width="33.0" height="33.0"/>
<rect x="622.1" y="1525.5" width="33.0" height="33.0"/>
<rect x="631.9" y="1520.3" width="33.0" height="33.0"/>
<rect x="400.2" y="1532.9" width="33.0" height="33.0"/>
<rect x="433.3" y="1539.5" width="33.0" height="33.0"/>
<rect x="453.0" y="1532.4" width="33.0" height="33.0"/>
<rect x="735.7" y="1520.8" width="33.0" height="33.0"/>
<rect x="749.1" y="1515.0" width="33.0" height="33.0"/>
<rect x="795.9" y="1527.8" width="33.0" height="33.0"/>
<rect x="801.7" y="1522.0" width="33.0" height="33.0"/>
<rect x="848.3" y="1532.4" width="33.0" height="33.0"/>
<rect x="875.5" y="1531.0" width="33.0" height="33.0"/>
<rect x="919.2" y="1504.5" width="33.0" height="33.0"/>
<rect x="929.7" y="1481.4" width="33.0" height="33.0"/>
<rect x="962.1" y="1497.6" width="33.0" height="33.0"/>
<rect x="945.9" y="1487.7" width="33.0" height="33.0"/>
<rect x="1008.9" y="1481.0" width="33.0" height="33.0"/>
<rect x="1054.8" y="1510.8" width="33.0" height="33.0"/>
<rect x="1089.5" y="1500.0" width="33.0" height="33.0"/>
<rect x="1128.9" y="1516.6" width="33.0" height="33.0"/>
<rect x="1160.7" y="1479.1" width="33.0" height="33.0"/>
<rect x="1147.5" y="1488.5" width="33.0" height="33.0"/>
<rect x="1128.9" y="1484.9" width="33.0" height="33.0"/>
<rect x="1305.5" y="1487.5" width="33.0" height="33.0"/>
<rect x="1310.5" y="1482.5" width="33.0" height="33.0"/>
</g>
<rect x="404.0" y="208.0" width="1929.2" height="1415.0" fill="none" stroke="#000" stroke-width="10.4" stroke-linejoin="round"/>
<g><text transform="translate(442.94,394.30)" font-family="'Liberation Sans', 'DejaVu Sans', sans-serif" font-size="108" font-weight="bold" font-style="normal" textLength="122.79" lengthAdjust="spacingAndGlyphs">30</text> <text transform="translate(603.38,393.80)" font-family="'Liberation Sans', 'DejaVu Sans', sans-serif" font-size="103" font-weight="bold" font-style="normal" textLength="115.51" lengthAdjust="spacingAndGlyphs">Pa</text><text transform="translate(720.56,404.02) skewX(-7.68) scale(1.456,1.148)" font-family="'Liberation Sans', 'DejaVu Sans', sans-serif" font-size="103" font-weight="bold" font-style="normal">/</text><text transform="translate(770.86,393.80)" font-family="'Liberation Sans', 'DejaVu Sans', sans-serif" font-size="103" font-weight="bold" font-style="normal" textLength="151.51" lengthAdjust="spacingAndGlyphs">cm</text></g>
<g><text transform="translate(449.01,1295.80)" font-family="'Liberation Sans', 'DejaVu Sans', sans-serif" font-size="106" font-weight="bold" font-style="normal" textLength="58.81" lengthAdjust="spacingAndGlyphs">4</text> <text transform="translate(550.38,1295.80)" font-family="'Liberation Sans', 'DejaVu Sans', sans-serif" font-size="103" font-weight="bold" font-style="normal" textLength="115.51" lengthAdjust="spacingAndGlyphs">Pa</text><text transform="translate(667.56,1306.02) skewX(-7.68) scale(1.456,1.148)" font-family="'Liberation Sans', 'DejaVu Sans', sans-serif" font-size="103" font-weight="bold" font-style="normal">/</text><text transform="translate(717.86,1295.80)" font-family="'Liberation Sans', 'DejaVu Sans', sans-serif" font-size="103" font-weight="bold" font-style="normal" textLength="151.51" lengthAdjust="spacingAndGlyphs">cm</text></g>
<g><text transform="translate(1636.04,404.30)" font-family="'Liberation Sans', 'DejaVu Sans', sans-serif" font-size="110" font-weight="bold" font-style="normal" stroke="#fff" stroke-width="0.8" textLength="270.96" lengthAdjust="spacingAndGlyphs">3.252</text> <text transform="translate(1944.82,403.60)" font-family="'Liberation Sans', 'DejaVu Sans', sans-serif" font-size="105" font-weight="bold" font-style="normal" stroke="#fff" stroke-width="0.8" textLength="168.05" lengthAdjust="spacingAndGlyphs">kW</text><text transform="translate(2107.57,414.22) skewX(-11.43) scale(1.212,1.127)" font-family="'Liberation Sans', 'DejaVu Sans', sans-serif" font-size="105" font-weight="bold" font-style="normal">/</text><text transform="translate(2161.33,403.60)" font-family="'Liberation Sans', 'DejaVu Sans', sans-serif" font-size="105" font-weight="bold" font-style="normal" stroke="#000" stroke-width="2.6" textLength="50.36" lengthAdjust="spacingAndGlyphs">L</text></g>
<g><text transform="translate(1738.54,1555.30)" font-family="'Liberation Sans', 'DejaVu Sans', sans-serif" font-size="110" font-weight="bold" font-style="normal" stroke="#fff" stroke-width="0.8" textLength="276.18" lengthAdjust="spacingAndGlyphs">2.821</text><rect x="1958.3" y="1541.9" width="21.2" height="15.6" fill="#fff"/><rect x="1994.0" y="1541.9" width="20.1" height="15.6" fill="#fff"/> <text transform="translate(2047.82,1554.60)" font-family="'Liberation Sans', 'DejaVu Sans', sans-serif" font-size="105" font-weight="bold" font-style="normal" stroke="#fff" stroke-width="0.8" textLength="168.05" lengthAdjust="spacingAndGlyphs">kW</text><text transform="translate(2210.57,1565.22) skewX(-11.43) scale(1.212,1.127)" font-family="'Liberation Sans', 'DejaVu Sans', sans-serif" font-size="105" font-weight="bold" font-style="normal">/</text><text transform="translate(2264.33,1554.60)" font-family="'Liberation Sans', 'DejaVu Sans', sans-serif" font-size="105" font-weight="bold" font-style="normal" stroke="#000" stroke-width="2.6" textLength="50.36" lengthAdjust="spacingAndGlyphs">L</text></g>
<g fill="none" stroke="#ff0000">
<path d="M2228.2 296.6 L416 291" stroke-width="10.6" stroke-dasharray="29.4 10.25"/>
<path d="M2260.6 322 L2260.8 1596" stroke-width="10.6" stroke-dasharray="29 10.7" stroke-dashoffset="1.2"/>
</g>
<g fill="none" stroke="#ff0000" stroke-width="10.4" stroke-linecap="round" stroke-linejoin="miter">
<path d="M444 273.8 L415.3 291 L444 308.2"/>
<path d="M2243.2 1577.4 L2260.9 1606.6 L2278.6 1577.4"/>
</g>
<circle cx="2257.7" cy="296.9" r="24.7" fill="#fff" stroke="#ff0000" stroke-width="12.6"/>
<g fill="none" stroke="#388e2b">
<path d="M1700 1447.4 L426 1447.8" stroke-width="10" stroke-dasharray="28.4 11.25" stroke-dashoffset="18"/>
<path d="M1722.2 1475.7 L1722.2 1596" stroke-width="11.4" stroke-dasharray="28 11"/>
</g>
<g fill="none" stroke="#388e2b" stroke-width="10.6" stroke-linecap="round" stroke-linejoin="miter">
<path d="M447.5 1433.3 L424.3 1447.8 L447.5 1462.7"/>
<path d="M1704.5 1578 L1722.2 1606.6 L1740 1578"/>
</g>
<circle cx="1721" cy="1447.5" r="24.7" fill="none" stroke="#388e2b" stroke-width="13.2"/>
<circle cx="227.4" cy="56" r="25" fill="none" stroke="#ff0000" stroke-width="14.8"/>
<circle cx="592.5" cy="56" r="25" fill="none" stroke="#388e2b" stroke-width="14.8"/>
<rect x="1000" y="25.7" width="50" height="50.6" fill="none" stroke="#0000ff" stroke-width="12.6"/>
<circle cx="1837.5" cy="52.7" r="24.9" fill="none" stroke="#000" stroke-width="14"/>
<g><text transform="translate(290.06,80.60)" font-family="'Liberation Serif', 'DejaVu Serif', serif" font-size="88" font-weight="bold" font-style="italic" stroke="#000" stroke-width="1.6" textLength="118.15" lengthAdjust="spacing">OP</text><text transform="translate(413.75,99.50) scale(1.1,1)" font-family="'Liberation Serif', 'DejaVu Serif', serif" font-size="60" font-weight="bold" font-style="italic" stroke="#000" stroke-width="1.2" textLength="79.74" lengthAdjust="spacing">sgl</text></g>
<g><text transform="translate(652.45,80.60)" font-family="'Liberation Serif', 'DejaVu Serif', serif" font-size="88" font-weight="bold" font-style="italic" stroke="#000" stroke-width="1.6" textLength="118.49" lengthAdjust="spacing">OP</text><text transform="translate(776.77,99.40) scale(1.1,1)" font-family="'Liberation Serif', 'DejaVu Serif', serif" font-size="60" font-weight="bold" font-style="italic" stroke="#000" stroke-width="1.2" textLength="148.59" lengthAdjust="spacing">multi</text></g>
<g><text transform="translate(1087.01,80.60) scale(1.1,1)" font-family="'Liberation Serif', 'DejaVu Serif', serif" font-size="88" font-weight="bold" font-style="italic" stroke="#000" stroke-width="1.2" textLength="268.38" lengthAdjust="spacing">Pareto</text> <text transform="translate(1404.29,80.60) scale(1.1,1)" font-family="'Liberation Serif', 'DejaVu Serif', serif" font-size="88" font-weight="bold" font-style="italic" stroke="#000" stroke-width="1.2" textLength="327.48" lengthAdjust="spacing">samples</text></g>
<g><text transform="translate(1898.01,80.60) scale(1.1,1)" font-family="'Liberation Serif', 'DejaVu Serif', serif" font-size="88" font-weight="bold" font-style="italic" stroke="#000" stroke-width="1.2" textLength="269.20" lengthAdjust="spacing">Pareto</text> <text transform="translate(2212.56,80.60) scale(1.1,1)" font-family="'Liberation Serif', 'DejaVu Serif', serif" font-size="88" font-weight="bold" font-style="italic" stroke="#000" stroke-width="1.2" textLength="214.28" lengthAdjust="spacing">front</text></g>
<g><text transform="translate(220.40,234.00)" font-family="'Liberation Sans', 'DejaVu Sans', sans-serif" font-size="112" font-weight="bold" font-style="normal" stroke="#fff" stroke-width="0.8" textLength="120.77" lengthAdjust="spacingAndGlyphs">32</text></g>
<g><text transform="translate(220.36,407.90)" font-family="'Liberation Sans', 'DejaVu Sans', sans-serif" font-size="112" font-weight="bold" font-style="normal" stroke="#fff" stroke-width="0.8" textLength="120.26" lengthAdjust="spacingAndGlyphs">28</text></g>
<g><text transform="translate(219.42,580.10)" font-family="'Liberation Sans', 'DejaVu Sans', sans-serif" font-size="112" font-weight="bold" font-style="normal" stroke="#fff" stroke-width="0.8" textLength="121.77" lengthAdjust="spacingAndGlyphs">24</text></g>
<g><text transform="translate(219.29,768.10)" font-family="'Liberation Sans', 'DejaVu Sans', sans-serif" font-size="112" font-weight="bold" font-style="normal" stroke="#fff" stroke-width="0.8" textLength="124.04" lengthAdjust="spacingAndGlyphs">20</text></g>
<g><text transform="translate(221.04,946.30)" font-family="'Liberation Sans', 'DejaVu Sans', sans-serif" font-size="112" font-weight="bold" font-style="normal" stroke="#fff" stroke-width="0.8" textLength="122.69" lengthAdjust="spacingAndGlyphs">16</text><rect x="226.0" y="932.6" width="21.2" height="15.9" fill="#fff"/><rect x="261.6" y="932.6" width="20.1" height="15.9" fill="#fff"/></g>
<g><text transform="translate(221.05,1126.00)" font-family="'Liberation Sans', 'DejaVu Sans', sans-serif" font-size="112" font-weight="bold" font-style="normal" stroke="#fff" stroke-width="0.8" textLength="119.58" lengthAdjust="spacingAndGlyphs">12</text><rect x="225.9" y="1112.3" width="20.6" height="15.9" fill="#fff"/><rect x="260.6" y="1112.3" width="19.6" height="15.9" fill="#fff"/></g>
<g><text transform="translate(247.50,1301.60)" font-family="'Liberation Sans', 'DejaVu Sans', sans-serif" font-size="112" font-weight="bold" font-style="normal" stroke="#fff" stroke-width="0.8" textLength="62.73" lengthAdjust="spacingAndGlyphs">8</text></g>
<g><text transform="translate(246.86,1476.70)" font-family="'Liberation Sans', 'DejaVu Sans', sans-serif" font-size="112" font-weight="bold" font-style="normal" stroke="#fff" stroke-width="0.8" textLength="61.52" lengthAdjust="spacingAndGlyphs">4</text></g>
<g><text transform="translate(245.29,1651.80)" font-family="'Liberation Sans', 'DejaVu Sans', sans-serif" font-size="112" font-weight="bold" font-style="normal" stroke="#fff" stroke-width="0.8" textLength="66.88" lengthAdjust="spacingAndGlyphs">0</text></g>
<g><text transform="translate(319.69,1743.20)" font-family="'Liberation Sans', 'DejaVu Sans', sans-serif" font-size="112" font-weight="bold" font-style="normal" stroke="#fff" stroke-width="0.8" textLength="148.49" lengthAdjust="spacingAndGlyphs">1.8</text><rect x="324.5" y="1729.5" width="20.5" height="15.9" fill="#fff"/><rect x="359.0" y="1729.5" width="19.4" height="15.9" fill="#fff"/></g>
<g><text transform="translate(687.41,1743.20)" font-family="'Liberation Sans', 'DejaVu Sans', sans-serif" font-size="112" font-weight="bold" font-style="normal" stroke="#fff" stroke-width="0.8" textLength="153.89" lengthAdjust="spacingAndGlyphs">2.1</text><rect x="784.7" y="1729.5" width="21.3" height="15.9" fill="#fff"/><rect x="820.5" y="1729.5" width="20.1" height="15.9" fill="#fff"/></g>
<g><text transform="translate(1076.50,1743.20)" font-family="'Liberation Sans', 'DejaVu Sans', sans-serif" font-size="112" font-weight="bold" font-style="normal" stroke="#fff" stroke-width="0.8" textLength="149.25" lengthAdjust="spacingAndGlyphs">2.4</text></g>
<g><text transform="translate(1455.37,1743.20)" font-family="'Liberation Sans', 'DejaVu Sans', sans-serif" font-size="112" font-weight="bold" font-style="normal" stroke="#fff" stroke-width="0.8" textLength="153.02" lengthAdjust="spacingAndGlyphs">2.7</text></g>
<g><text transform="translate(1847.44,1743.20)" font-family="'Liberation Sans', 'DejaVu Sans', sans-serif" font-size="112" font-weight="bold" font-style="normal" stroke="#fff" stroke-width="0.8" textLength="150.88" lengthAdjust="spacingAndGlyphs">3.0</text></g>
<g><text transform="translate(2230.44,1743.20)" font-family="'Liberation Sans', 'DejaVu Sans', sans-serif" font-size="112" font-weight="bold" font-style="normal" stroke="#fff" stroke-width="0.8" textLength="147.73" lengthAdjust="spacingAndGlyphs">3.3</text></g>
<g><text transform="translate(983.43,1907.70)" font-family="'Liberation Serif', 'DejaVu Serif', serif" font-size="123" font-weight="bold" font-style="italic" stroke="#000" stroke-width="1.6" textLength="73.71" lengthAdjust="spacingAndGlyphs">P</text><text transform="translate(1006.66,1865.44)" font-family="'Liberation Serif', 'DejaVu Serif', serif" font-size="96" font-weight="bold">&#x2d9;</text><text transform="translate(1068.93,1932.30) scale(1.03,1)" font-family="'Liberation Serif', 'DejaVu Serif', serif" font-size="95" font-weight="bold" font-style="italic" stroke="#000" stroke-width="1.0" textLength="227.17" lengthAdjust="spacing">stack</text> <text transform="translate(1359.54,1908.10)" font-family="'Liberation Sans', 'DejaVu Sans', sans-serif" font-size="120" font-weight="bold" font-style="normal" textLength="228.84" lengthAdjust="spacingAndGlyphs">[kW</text><text transform="translate(1583.06,1920.92) skewX(-10.70) scale(1.250,1.150)" font-family="'Liberation Sans', 'DejaVu Sans', sans-serif" font-size="120" font-weight="bold" font-style="normal">/</text><text transform="translate(1645.11,1908.10)" font-family="'Liberation Sans', 'DejaVu Sans', sans-serif" font-size="120" font-weight="bold" font-style="normal" stroke="#000" stroke-width="1.8" textLength="58.88" lengthAdjust="spacingAndGlyphs">L</text><text transform="translate(1705.08,1908.10)" font-family="'Liberation Sans', 'DejaVu Sans', sans-serif" font-size="120" font-weight="bold" font-style="normal" textLength="35.12" lengthAdjust="spacingAndGlyphs">]</text></g>
<g><text transform="translate(113.60,1240.85) rotate(-90)" font-family="'Liberation Serif', 'DejaVu Serif', serif" font-size="124" font-weight="normal" font-style="normal" textLength="72.82" lengthAdjust="spacingAndGlyphs">Δ</text><text transform="translate(113.60,1164.06) rotate(-90)" font-family="'Liberation Serif', 'DejaVu Serif', serif" font-size="124" font-weight="bold" font-style="italic" stroke="#000" stroke-width="1.2" textLength="73.66" lengthAdjust="spacingAndGlyphs">P</text> <text transform="translate(112.90,1033.49) rotate(-90)" font-family="'Liberation Sans', 'DejaVu Sans', sans-serif" font-size="120" font-weight="bold" font-style="normal" textLength="166.96" lengthAdjust="spacingAndGlyphs">[Pa</text><text transform="translate(125.82,856.66) rotate(-90) skewX(-9.69) scale(1.250,1.148)" font-family="'Liberation Sans', 'DejaVu Sans', sans-serif" font-size="120" font-weight="bold" font-style="normal">/</text><text transform="translate(112.90,798.10) rotate(-90)" font-family="'Liberation Sans', 'DejaVu Sans', sans-serif" font-size="120" font-weight="bold" font-style="normal" textLength="206.53" lengthAdjust="spacingAndGlyphs">cm]</text></g>
</svg>
</body></html>
